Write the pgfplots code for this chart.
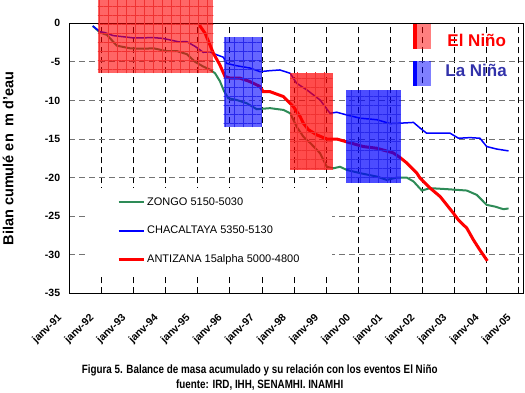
\documentclass[border=0pt]{standalone}
\usepackage{fontspec}
\setmainfont{Liberation Sans}
\newfontfamily\narrowfont[FakeStretch=0.82]{Liberation Sans}
\usepackage{pgfplots}
\pgfplotsset{compat=1.18}
\usetikzlibrary{patterns.meta}
\definecolor{zongo}{RGB}{46,139,87}
\definecolor{lanina}{RGB}{50,50,170}
\definecolor{gridred}{RGB}{240,50,50}
\definecolor{gridblue}{RGB}{40,40,235}
\begin{document}
\begin{tikzpicture}[x=1pt,y=1pt]
\useasboundingbox (0,0) rectangle (525,393);
\begin{axis}[
  at={(69.3pt,99.7pt)}, anchor=south west,
  scale only axis, width=454pt, height=270pt,
  xmin=1991, xmax=2005.14, ymin=-35, ymax=0,
  clip=false,
  axis line style={black, line width=0.8pt},
  xtick={1991,...,2005},
  xticklabels={janv-91,janv-92,janv-93,janv-94,janv-95,janv-96,janv-97,janv-98,janv-99,janv-00,janv-01,janv-02,janv-03,janv-04,janv-05},
  ytick={-35,-30,-25,-20,-15,-10,-5,0},
  yticklabels={-35,-30,-25,-20,-15,-10,-5,0},
  major tick length=0pt,
  xmajorgrids, ymajorgrids,
  major x grid style={black, line width=0.8pt, dash pattern=on 6pt off 4pt},
  major y grid style={black!55, line width=0.8pt, dash pattern=on 6pt off 4pt},
  xticklabel style={font=\bfseries\fontsize{10.5}{12}\selectfont, inner sep=0pt, xshift=-9pt, yshift=-23pt, rotate=45, anchor=east},
  yticklabel style={font=\bfseries\fontsize{10.5}{12}\selectfont, inner sep=0pt, xshift=-9pt, anchor=east},
  ylabel={Bilan cumulé en\ \ m d'eau},
  every axis y label/.style={at={(axis description cs:-0.135,0.5)}, rotate=90, anchor=center, font=\bfseries\fontsize{14.5}{16}\selectfont},
  legend style={at={(axis cs:1991.52,-21.3)}, anchor=north west, draw=none, fill=white,
    inner xsep=31pt, inner ysep=8pt,
    font=\fontsize{11}{13}\selectfont, row sep=15.3pt, cells={anchor=west}},
  legend image code/.code={\draw[#1] (0pt,0pt) -- (25pt,0pt);},
]
% ZONGO
\addplot[zongo, line width=2pt] coordinates {
(1991.73,-0.35) (1991.96,-1.2) (1992.17,-1.5) (1992.37,-2.4) (1992.48,-2.9)
(1992.89,-3.24) (1993.3,-3.3) (1993.62,-3.24) (1994.03,-3.6) (1994.35,-3.6)
(1994.66,-4.0) (1994.92,-5.0) (1995.17,-5.6) (1995.38,-6.0) (1995.54,-6.48)
(1995.69,-7.5) (1995.82,-8.8) (1995.95,-9.7) (1996.21,-9.94) (1996.53,-10.37)
(1996.84,-11.14) (1997.25,-11.0) (1997.67,-11.23) (1997.88,-11.66) (1998.08,-13.4)
(1998.29,-14.7) (1998.5,-15.5) (1998.81,-16.84) (1999.02,-18.6) (1999.22,-18.8)
(1999.43,-18.6) (1999.64,-19.0) (2000.06,-19.43) (2000.58,-19.87) (2000.89,-20.3)
(2001.2,-20.0) (2001.51,-20.0) (2001.72,-20.5) (2001.98,-21.68) (2002.24,-21.37)
(2002.76,-21.5) (2003.38,-21.68) (2003.69,-22.24) (2004.0,-23.54) (2004.26,-23.76)
(2004.52,-24.1) (2004.68,-24.0)
};
\addlegendentry{ZONGO 5150-5030}
% CHACALTAYA
\addplot[blue, line width=1.5pt] coordinates {
(1991.73,-0.35) (1991.96,-1.09) (1992.1,-1.2) (1992.37,-1.6) (1992.7,-1.75)
(1993.0,-1.9) (1993.62,-1.86) (1993.9,-1.95) (1994.14,-2.16) (1994.4,-2.4)
(1994.66,-2.38) (1994.92,-3.0) (1995.17,-3.76) (1995.38,-3.7) (1995.54,-4.0)
(1995.8,-4.4) (1995.9,-5.2) (1996.21,-5.5) (1996.63,-5.8) (1996.94,-6.27)
(1997.25,-6.14) (1997.56,-6.05) (1997.88,-6.48) (1998.08,-7.77) (1998.40,-8.64)
(1998.81,-9.94) (1999.12,-11.66) (1999.33,-11.53) (1999.64,-11.88) (2000.06,-12.3)
(2000.58,-12.5) (2000.99,-13.0) (2001.30,-12.95) (2001.72,-12.85) (2001.93,-13.6)
(2002.13,-14.25) (2002.45,-14.25) (2002.86,-14.25) (2003.12,-14.9) (2003.48,-14.82)
(2003.79,-14.9) (2004.0,-15.98) (2004.31,-16.3) (2004.68,-16.54)
};
\addlegendentry{CHACALTAYA 5350-5130}
% ANTIZANA
\addplot[red, line width=3pt] coordinates {
(1995.05,-0.22) (1995.23,-1.3) (1995.38,-2.8) (1995.49,-3.9) (1995.69,-5.4)
(1995.85,-6.9) (1996.0,-7.1) (1996.32,-7.12) (1996.63,-7.56) (1996.94,-8.2)
(1997.04,-8.86) (1997.25,-8.86) (1997.67,-9.5) (1997.98,-10.8) (1998.19,-12.1)
(1998.29,-12.95) (1998.45,-13.8) (1998.71,-14.47) (1999.02,-15.0) (1999.33,-15.0)
(1999.75,-15.5) (2000.16,-15.98) (2000.58,-16.2) (2001.09,-16.8) (2001.30,-17.4)
(2001.51,-18.1) (2001.82,-19.4) (2001.93,-20.1) (2002.24,-21.37) (2002.55,-22.46)
(2002.96,-24.6) (2003.12,-25.5) (2003.38,-26.55) (2003.59,-28.1) (2003.79,-29.4)
(2004.02,-30.8)
};
\addlegendentry{ANTIZANA 15alpha 5000-4800}
% El Nino / La Nina periods
\addplot[forget plot, draw=none, fill=red, fill opacity=0.6] coordinates {(1991.89,3.05) (1995.49,3.05) (1995.49,-6.48) (1991.89,-6.48)};
\addplot[forget plot, draw=none, fill=blue, fill opacity=0.6] coordinates {(1995.81,-1.8) (1996.99,-1.8) (1996.99,-13.5) (1995.81,-13.5)};
\addplot[forget plot, draw=none, fill=red, fill opacity=0.7] coordinates {(1997.88,-6.4) (1999.2,-6.4) (1999.2,-19.0) (1997.88,-19.0)};
\addplot[forget plot, draw=none, fill=blue, fill opacity=0.7] coordinates {(1999.62,-8.7) (2001.32,-8.7) (2001.32,-20.65) (1999.62,-20.65)};
% texture of the shaded periods
\addplot[forget plot, draw=none, pattern={Hatch[angle=0, distance=9pt, line width=0.4pt]}, pattern color=gridred] coordinates {(1991.89,3.05) (1995.49,3.05) (1995.49,-6.48) (1991.89,-6.48)};
\addplot[forget plot, draw=none, pattern={Hatch[angle=0, distance=9pt, line width=0.4pt]}, pattern color=gridblue] coordinates {(1995.81,-1.8) (1996.99,-1.8) (1996.99,-13.5) (1995.81,-13.5)};
\addplot[forget plot, draw=none, pattern={Hatch[angle=0, distance=9pt, line width=0.4pt]}, pattern color=gridred] coordinates {(1997.88,-6.4) (1999.2,-6.4) (1999.2,-19.0) (1997.88,-19.0)};
\addplot[forget plot, draw=none, pattern={Hatch[angle=0, distance=9pt, line width=0.4pt]}, pattern color=gridblue] coordinates {(1999.62,-8.7) (2001.32,-8.7) (2001.32,-20.65) (1999.62,-20.65)};
% event legend
\fill[red, opacity=0.5] (axis cs:2001.71,-0.13) rectangle (axis cs:2002.28,-3.33);
\fill[red] (axis cs:2001.71,-0.13) rectangle (axis cs:2001.82,-3.33);
\fill[blue, opacity=0.5] (axis cs:2001.71,-4.88) rectangle (axis cs:2002.28,-8.08);
\fill[blue] (axis cs:2001.71,-4.88) rectangle (axis cs:2001.82,-8.08);
\node[red, font=\bfseries\fontsize{17}{19}\selectfont] at (axis cs:2003.69,-2.16) {El Niño};
\node[lanina, font=\bfseries\fontsize{17}{19}\selectfont] at (axis cs:2003.67,-6.14) {La Niña};
\end{axis}
\node[font=\narrowfont\bfseries\fontsize{12}{14}\selectfont] at (259.7,23) {Figura 5. Balance de masa acumulado y su relación con los eventos El Niño};
\node[font=\narrowfont\bfseries\fontsize{12}{14}\selectfont] at (259.7,7.5) {fuente: IRD, IHH, SENAMHI. INAMHI};
\end{tikzpicture}
\end{document}
